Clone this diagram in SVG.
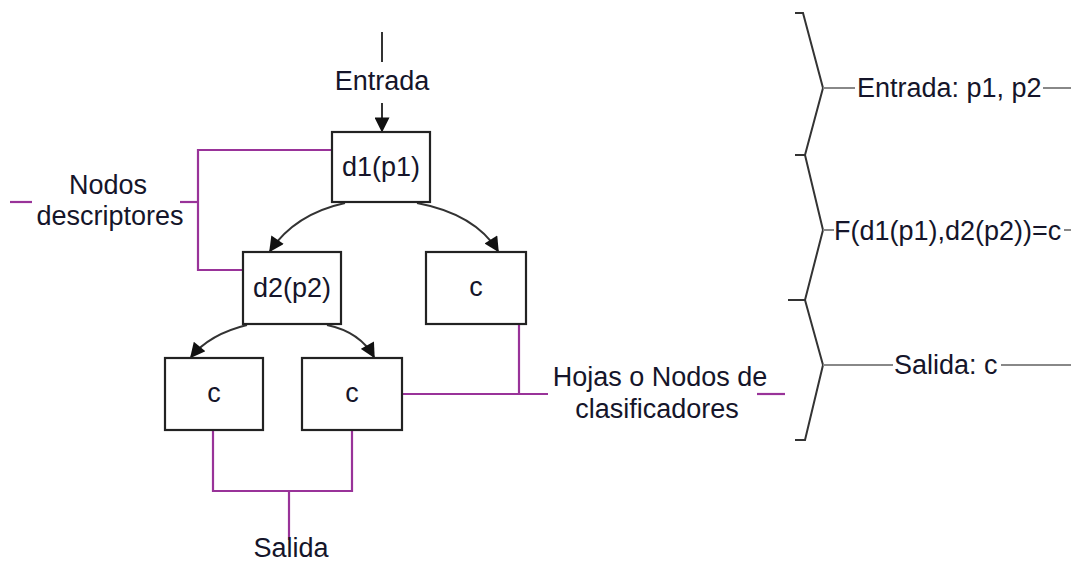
<svg xmlns="http://www.w3.org/2000/svg" width="1081" height="561" viewBox="0 0 1081 561">
  <style>
    .box { fill: #fff; stroke: #222; stroke-width: 2.2; }
    .lbl { font-family: "Liberation Sans", Arial, sans-serif; font-size: 27px; fill: #15152a; }
    .mid { text-anchor: middle; }
    .edge { fill: none; stroke: #333; stroke-width: 2; }
    .tag { fill: none; stroke: #993399; stroke-width: 2.2; }
    .brace { fill: none; stroke: #333; stroke-width: 2; }
    .rule { fill: none; stroke: #888; stroke-width: 2; }
  </style>
  <defs>
    <marker id="headL" viewBox="0 0 10 10" refX="9" refY="5" markerWidth="17" markerHeight="15" orient="auto" markerUnits="userSpaceOnUse">
      <path d="M0,0 L10,5 L0,10 z" fill="#111"/>
    </marker>
  </defs>

  <!-- tree connectors -->
  <g id="connectors">
    <line class="edge" x1="382" y1="32" x2="382" y2="62"/>
    <line class="edge" x1="382" y1="103" x2="382" y2="131" marker-end="url(#headL)"/>
    <path class="edge" d="M345,203 Q295,214 270,251" marker-end="url(#headL)"/>
    <path class="edge" d="M417,203 Q475,214 498,251" marker-end="url(#headL)"/>
    <path class="edge" d="M247,325 Q210,334 191,357" marker-end="url(#headL)"/>
    <path class="edge" d="M327,325 Q360,332 374,357" marker-end="url(#headL)"/>

    <!-- annotation brackets -->
    <polyline class="tag" points="332,150 198,150 198,270 243,270"/>
    <line class="tag" x1="180" y1="202" x2="198" y2="202"/>
    <line class="tag" x1="10" y1="202" x2="32" y2="202"/>

    <polyline class="tag" points="498,324 519,324 519,394"/>
    <line class="tag" x1="399" y1="394" x2="548" y2="394"/>
    <line class="tag" x1="757" y1="394" x2="785" y2="394"/>

    <polyline class="tag" points="213,431 213,491 352,491 352,431"/>
    <line class="tag" x1="289" y1="491" x2="289" y2="540"/>

    <!-- right-hand braces -->
    <polyline class="brace" points="795,13 803,13 823,88 805,155 795,155"/>
    <polyline class="brace" points="805,155 823,230 805,300 788,300"/>
    <polyline class="brace" points="805,300 823,365 805,440 795,440"/>
    <line class="rule" x1="823" y1="88" x2="855" y2="88"/>
    <line class="rule" x1="1043" y1="88" x2="1071" y2="88"/>
    <line class="rule" x1="823" y1="230" x2="834" y2="230"/>
    <line class="rule" x1="1064" y1="230" x2="1071" y2="230"/>
    <line class="rule" x1="823" y1="365" x2="893" y2="365"/>
    <line class="rule" x1="1001" y1="365" x2="1071" y2="365"/>
  </g>

  <g id="d1">
    <rect class="box" x="332" y="132" width="98" height="70"/>
    <text class="lbl mid" x="381" y="176">d1(p1)</text>
  </g>
  <g id="d2">
    <rect class="box" x="243" y="252" width="98" height="72"/>
    <text class="lbl mid" x="292" y="297">d2(p2)</text>
  </g>
  <g id="leaf-right">
    <rect class="box" x="426" y="252" width="100" height="72"/>
    <text class="lbl mid" x="476" y="296">c</text>
  </g>
  <g id="leaf-left">
    <rect class="box" x="165" y="358" width="98" height="72"/>
    <text class="lbl mid" x="214" y="402">c</text>
  </g>
  <g id="leaf-mid">
    <rect class="box" x="302" y="358" width="100" height="72"/>
    <text class="lbl mid" x="352" y="402">c</text>
  </g>

  <g id="labels">
    <text class="lbl mid" x="382" y="90">Entrada</text>
    <text class="lbl mid" x="108" y="194">Nodos</text>
    <text class="lbl mid" x="110" y="225">descriptores</text>
    <text class="lbl mid" x="660" y="386">Hojas o Nodos de</text>
    <text class="lbl mid" x="657" y="418">clasificadores</text>
    <text class="lbl mid" x="291" y="557">Salida</text>
    <text class="lbl" x="857" y="97">Entrada: p1, p2</text>
    <text class="lbl" x="834" y="240">F(d1(p1),d2(p2))=c</text>
    <text class="lbl" x="894" y="374">Salida: c</text>
  </g>
</svg>
